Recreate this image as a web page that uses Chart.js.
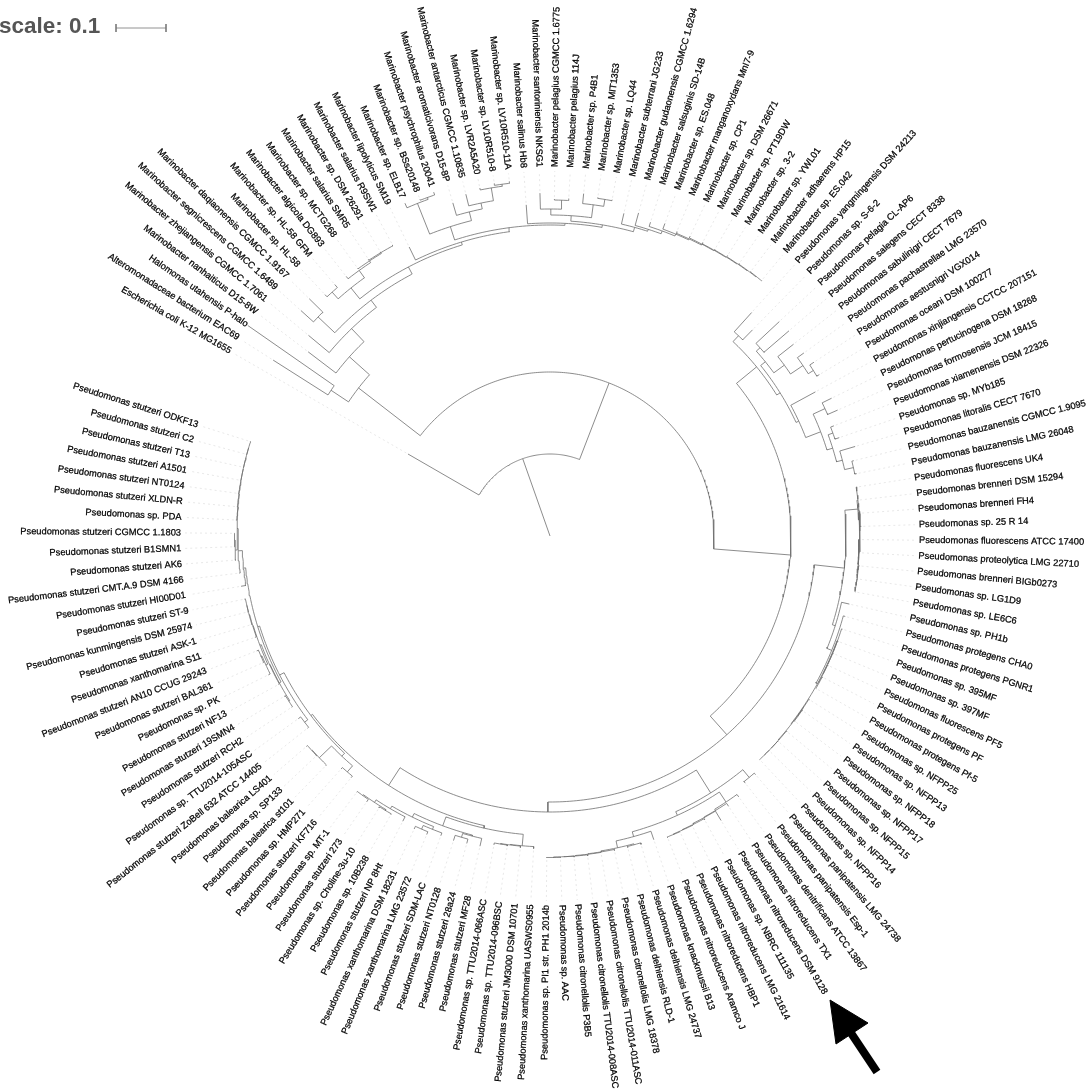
<!DOCTYPE html>
<html>
<head>
<meta charset="utf-8">
<style>
  html, body { margin: 0; padding: 0; background: #fff; overflow: hidden; }
  canvas { display: block; }
</style>
<script src="https://cdn.jsdelivr.net/npm/chart.js@4/dist/chart.umd.min.js"></script>
</head>
<body>
<canvas id="tree" width="1088" height="1091"></canvas>
<script>
// tips, clockwise from the outgroup
const tipNames = [
  'Escherichia coli K-12 MG1655', 'Alteromonadaceae bacterium EAC69', 'Halomonas utahensis P-halo', 'Marinobacter nanhaiticus D15-8W',
  'Marinobacter zhejiangensis CGMCC 1.7061', 'Marinobacter segnicrescens CGMCC 1.6489', 'Marinobacter daqiaonensis CGMCC 1.9167', 'Marinobacter sp. HL-58',
  'Marinobacter sp. HL-58 GFM', 'Marinobacter algicola DG893', 'Marinobacter sp. MCTG268', 'Marinobacter salarius SMR5',
  'Marinobacter sp. DSM 26291', 'Marinobacter salarius R9SW1', 'Marinobacter lipolyticus SM19', 'Marinobacter sp. ELB17',
  'Marinobacter sp. BSs20148', 'Marinobacter psychrophilus 20041', 'Marinobacter aromaticivorans D15-8P', 'Marinobacter antarcticus CGMCC 1.10835',
  'Marinobacter sp. LVR2A5A20', 'Marinobacter sp. LV10R510-8', 'Marinobacter sp. LV10R510-11A', 'Marinobacter salinus Hb8',
  'Marinobacter santoriniensis NKSG1', 'Marinobacter pelagius CGMCC 1.6775', 'Marinobacter pelagius 114J', 'Marinobacter sp. P4B1',
  'Marinobacter sp. MIT1353', 'Marinobacter sp. LQ44', 'Marinobacter subterrani JG233', 'Marinobacter gudaonensis CGMCC 1.6294',
  'Marinobacter salsuginis SD-14B', 'Marinobacter sp. ES.048', 'Marinobacter manganoxydans MnI7-9', 'Marinobacter sp. CP1',
  'Marinobacter sp. DSM 26671', 'Marinobacter sp. PT19DW', 'Marinobacter sp. 3-2', 'Marinobacter sp. YWL01',
  'Marinobacter adhaerens HP15', 'Marinobacter sp. ES.042', 'Pseudomonas yangmingensis DSM 24213', 'Pseudomonas sp. S-6-2',
  'Pseudomonas pelagia CL-AP6', 'Pseudomonas salegens CECT 8338', 'Pseudomonas sabulinigri CECT 7679', 'Pseudomonas pachastrellae LMG 23570',
  'Pseudomonas aestusnigri VGX014', 'Pseudomonas oceani DSM 100277', 'Pseudomonas xinjiangensis CCTCC 207151', 'Pseudomonas pertucinogena DSM 18268',
  'Pseudomonas formosensis JCM 18415', 'Pseudomonas xiamenensis DSM 22326', 'Pseudomonas sp. MYb185', 'Pseudomonas litoralis CECT 7670',
  'Pseudomonas bauzanensis CGMCC 1.9095', 'Pseudomonas bauzanensis LMG 26048', 'Pseudomonas fluorescens UK4', 'Pseudomonas brenneri DSM 15294',
  'Pseudomonas brenneri FH4', 'Pseudomonas sp. 25 R 14', 'Pseudomonas fluorescens ATCC 17400', 'Pseudomonas proteolytica LMG 22710',
  'Pseudomonas brenneri BIGb0273', 'Pseudomonas sp. LG1D9', 'Pseudomonas sp. LE6C6', 'Pseudomonas sp. PH1b',
  'Pseudomonas protegens CHA0', 'Pseudomonas protegens PGNR1', 'Pseudomonas sp. 395MF', 'Pseudomonas sp. 397MF',
  'Pseudomonas fluorescens PF5', 'Pseudomonas protegens PF', 'Pseudomonas protegens Pf-5', 'Pseudomonas sp. NFPP25',
  'Pseudomonas sp. NFPP13', 'Pseudomonas sp. NFPP18', 'Pseudomonas sp. NFPP17', 'Pseudomonas sp. NFPP15',
  'Pseudomonas sp. NFPP14', 'Pseudomonas sp. NFPP16', 'Pseudomonas panipatensis LMG 24738', 'Pseudomonas panipatensis Esp-1',
  'Pseudomonas denitrificans ATCC 13867', 'Pseudomonas nitroreducens TX1', 'Pseudomonas nitroreducens DSM 9128', 'Pseudomonas sp. NBRC 111135',
  'Pseudomonas nitroreducens LMG 21614', 'Pseudomonas nitroreducens HBP1', 'Pseudomonas nitroreducens Aramco J', 'Pseudomonas knackmussii B13',
  'Pseudomonas delhiensis LMG 24737', 'Pseudomonas delhiensis RLD-1', 'Pseudomonas citronellolis LMG 18378', 'Pseudomonas citronellolis TTU2014-011ASC',
  'Pseudomonas citronellolis TTU2014-008ASC', 'Pseudomonas citronellolis P3B5', 'Pseudomonas sp. AAC', 'Pseudomonas sp. PI1 str. PH1 2014b',
  'Pseudomonas xanthomarina UASWS0955', 'Pseudomonas stutzeri JM3000 DSM 10701', 'Pseudomonas sp. TTU2014-096BSC', 'Pseudomonas sp. TTU2014-066ASC',
  'Pseudomonas stutzeri MF28', 'Pseudomonas stutzeri 28a24', 'Pseudomonas stutzeri NT0128', 'Pseudomonas stutzeri SDM-LAC',
  'Pseudomonas xanthomarina LMG 23572', 'Pseudomonas xanthomarina DSM 18231', 'Pseudomonas stutzeri NP 8Ht', 'Pseudomonas sp. 10B238',
  'Pseudomonas sp. Choline-3u-10', 'Pseudomonas stutzeri 273', 'Pseudomonas sp. MT-1', 'Pseudomonas stutzeri KF716',
  'Pseudomonas sp. HMP271', 'Pseudomonas balearica st101', 'Pseudomonas sp. SP133', 'Pseudomonas balearica LS401',
  'Pseudomonas stutzeri ZoBell 632 ATCC 14405', 'Pseudomonas sp. TTU2014-105ASC', 'Pseudomonas stutzeri RCH2', 'Pseudomonas stutzeri 19SMN4',
  'Pseudomonas stutzeri NF13', 'Pseudomonas sp. PK', 'Pseudomonas stutzeri BAL361', 'Pseudomonas stutzeri AN10 CCUG 29243',
  'Pseudomonas xanthomarina S11', 'Pseudomonas stutzeri ASK-1', 'Pseudomonas kunmingensis DSM 25974', 'Pseudomonas stutzeri ST-9',
  'Pseudomonas stutzeri HI00D01', 'Pseudomonas stutzeri CMT.A.9 DSM 4166', 'Pseudomonas stutzeri AK6', 'Pseudomonas stutzeri B1SMN1',
  'Pseudomonas stutzeri CGMCC 1.1803', 'Pseudomonas sp. PDA', 'Pseudomonas stutzeri XLDN-R', 'Pseudomonas stutzeri NT0124',
  'Pseudomonas stutzeri A1501', 'Pseudomonas stutzeri T13', 'Pseudomonas stutzeri C2', 'Pseudomonas stutzeri ODKF13'
];

// distance from the root at the end of each tip (50 units = 0.1 on the scale bar)
const tipDepth = [
  164, 328, 368, 304, 314, 336, 338, 330, 331, 330,
  330, 331, 331, 331, 321.5, 363, 361, 363, 347, 352,
  355, 357, 357, 332, 343, 337, 338, 344, 342, 342,
  331, 335, 329.5, 333, 330, 331, 331, 331, 332, 332,
  332, 332, 301, 289, 314, 315, 310, 313, 316, 314,
  302, 313.5, 314, 304.5, 305.5, 318, 313, 313, 311, 310,
  311, 311.5, 310, 310.5, 311, 311, 310.5, 307, 306, 307,
  307, 307, 307, 307, 307, 307, 307, 307, 307, 307,
  307, 307, 315, 315, 322, 324, 332, 323, 323, 323.5,
  323.5, 321, 321.5, 321, 321, 321, 322, 322, 322, 322,
  313, 313, 313, 314, 318, 318.5, 319.5, 319, 323, 323,
  321, 321, 321, 323, 321, 313, 313, 321, 321, 322,
  309.5, 311, 310, 310.5, 309.5, 314, 314, 315, 312, 311.5,
  312, 312, 313, 313, 316, 316, 316, 314.5, 314.5, 314.5,
  314.5, 314.5, 314.5, 314.5
];

// internal nodes: first and last tip under the node, and its distance from the root
const cladeFirst = [
  1, 2, 2, 2, 4, 5, 6, 6, 8, 8, 8, 10, 11, 12,
  15, 16, 16, 16, 17, 19, 20, 21, 22,
  24, 25, 25, 25, 26, 28, 29,
  31, 32, 33, 34, 35, 36, 37, 38, 39, 40, 41,
  43, 43, 43, 45, 45, 45, 47, 48, 49, 51, 52, 52, 54, 54, 56, 57,
  59, 59, 59, 60, 60, 61, 63, 64, 65, 66,
  68, 69, 70, 70, 71, 72, 73, 74, 76, 76, 77, 79, 80, 81,
  83, 83, 83, 85, 85, 86, 87, 88, 89, 90,
  92, 93, 93, 95, 96, 97, 98, 99,
  101, 101, 101, 102, 103,
  105, 105, 106, 108, 108, 109, 111, 112, 112, 114,
  116, 116, 116, 118, 119,
  121, 121, 123, 123, 123, 125, 126, 126, 127, 129, 130, 131,
  133, 134, 135, 135, 136, 138, 139, 140, 141, 142, 143
];
const cladeLast = [
  144, 144, 42, 3, 42, 42, 42, 7, 42, 14, 9, 14, 14, 14,
  42, 42, 23, 18, 18, 23, 23, 23, 23,
  42, 42, 30, 27, 27, 30, 30,
  42, 42, 42, 42, 42, 42, 42, 42, 42, 42, 42,
  144, 58, 44, 58, 50, 46, 50, 50, 50, 58, 58, 53, 58, 55, 58, 58,
  144, 82, 67, 67, 62, 62, 67, 67, 67, 67,
  82, 82, 82, 75, 75, 75, 75, 75, 82, 78, 78, 82, 82, 82,
  144, 100, 84, 100, 91, 91, 91, 91, 91, 91,
  100, 100, 94, 100, 100, 100, 100, 100,
  144, 115, 104, 104, 104,
  115, 107, 107, 115, 110, 110, 115, 115, 113, 115,
  144, 120, 117, 120, 120,
  144, 122, 144, 132, 124, 132, 132, 128, 128, 132, 132, 132,
  144, 144, 144, 137, 137, 144, 144, 144, 144, 144, 144
];
const cladeDepth = [
  82, 164, 242, 263, 269, 287, 296, 319, 304, 318, 327, 327, 329, 330,
  307, 311, 325, 358, 360, 334, 340, 353, 355,
  313, 315.5, 321, 327, 336, 334, 341,
  320, 322, 325, 327, 328, 329, 329.5, 330, 330.5, 331, 331.5,
  241, 267, 275, 271, 277, 282, 290, 305, 311, 274, 290, 303, 296, 301, 302, 311,
  266, 296, 310, 310, 309, 310, 309, 309.5, 310, 310,
  299, 304, 305.5, 306, 306, 306, 306, 306.5, 306, 306, 306.5, 306.5, 306.5, 306.5,
  276, 303, 313, 307, 319, 320.5, 321, 322, 322.5, 323,
  312, 319, 320, 320, 320.5, 321, 321, 321.5,
  297, 299.5, 311, 311.5, 312,
  309, 310, 314, 313, 316, 320, 316, 319, 320, 320,
  299, 303, 311, 320, 320.5,
  304, 308, 306, 308, 309, 308.5, 310, 312, 313, 310.5, 311, 311,
  308, 312, 313, 315, 315.5, 313.5, 314, 314, 314, 314, 314
];

const scaleBarLabel = 'scale: 0.1';
const scaleBarUnits = 50;

// circular layout with a 12 degree gap, angles clockwise from east
const firstTipAngle = 210;
const tipStep = 2.43;

function toXY(r, deg) {
  const a = deg * Math.PI / 180;
  return { x: r * Math.cos(a), y: -r * Math.sin(a) };
}
function tipAngle(t) {
  return firstTipAngle + (t - 1) * tipStep;
}

const treePoints = [];
const leaderPoints = [];
const gap = { x: null, y: null };

function addBranch(parentDepth, depth, deg) {
  treePoints.push(toXY(parentDepth, deg), toXY(depth, deg), gap);
}
function addArc(depth, a0, a1) {
  for (let a = a0; a < a1; a += 0.75) treePoints.push(toXY(depth, a));
  treePoints.push(toXY(depth, a1), gap);
}
function findClade(first, last, notSelf) {
  // the biggest clade starting at this tip that still fits
  let best = -1;
  cladeFirst.forEach((f, i) => {
    if (f !== first || cladeLast[i] > last || i === notSelf) return;
    if (best < 0 || cladeLast[i] > cladeLast[best]) best = i;
  });
  return best;
}
function drawClade(i, parentDepth) {
  const depth = cladeDepth[i];
  const angles = [];
  let t = cladeFirst[i];
  while (t <= cladeLast[i]) {
    const c = findClade(t, cladeLast[i], i);
    if (c >= 0) {
      angles.push(drawClade(c, depth));
      t = cladeLast[c] + 1;
    } else {
      const a = tipAngle(t);
      addBranch(depth, tipDepth[t - 1], a);
      leaderPoints.push(toXY(tipDepth[t - 1] + 2, a), toXY(365, a), gap);
      angles.push(a);
      t++;
    }
  }
  const first = angles[0];
  const last = angles[angles.length - 1];
  addArc(depth, first, last);
  const mid = (first + last) / 2;
  addBranch(parentDepth, depth, mid);
  return mid;
}
drawClade(0, 0);

// pointer to the strain of interest
const arrowHeadX = [280, 318, 286, 280];
const arrowHeadY = [-464, -487, -508, -464];
const arrowShaftX = [301, 327];
const arrowShaftY = [-497, -536];

const barY = 508;
const barX0 = -434;
const barPoints = [
  { x: barX0, y: barY + 4 }, { x: barX0, y: barY - 4 }, gap,
  { x: barX0, y: barY }, { x: barX0 + scaleBarUnits, y: barY }, gap,
  { x: barX0 + scaleBarUnits, y: barY + 4 }, { x: barX0 + scaleBarUnits, y: barY - 4 }
];

const textPlugin = {
  id: 'treeText',
  afterDatasetsDraw(chart) {
    const ctx = chart.ctx;
    const xs = chart.scales.x;
    const ys = chart.scales.y;
    ctx.save();
    ctx.fillStyle = '#000';
    ctx.strokeStyle = '#000';
    ctx.lineWidth = 0.25;
    ctx.font = '9.3px "Liberation Sans"';
    ctx.textBaseline = 'middle';
    tipNames.forEach((name, i) => {
      const deg = tipAngle(i + 1) % 360;
      const p = toXY(369, deg);
      const flip = deg > 90 && deg < 270;
      ctx.save();
      ctx.translate(xs.getPixelForValue(p.x), ys.getPixelForValue(p.y));
      ctx.rotate((flip ? deg + 180 : deg) * Math.PI / 180);
      ctx.textAlign = flip ? 'right' : 'left';
      ctx.fillText(name, 0, 0);
      ctx.strokeText(name, 0, 0);
      ctx.restore();
    });
    ctx.fillStyle = '#555';
    ctx.font = 'bold 22.5px "Liberation Sans"';
    ctx.textAlign = 'left';
    ctx.textBaseline = 'alphabetic';
    ctx.fillText(scaleBarLabel, xs.getPixelForValue(-551), ys.getPixelForValue(503));
    ctx.restore();
  }
};

function lineSet(data, color, width, extra) {
  return Object.assign({
    data: data, borderColor: color, borderWidth: width, pointRadius: 0,
    showLine: true, fill: false, tension: 0
  }, extra || {});
}

new Chart(document.getElementById('tree'), {
  type: 'scatter',
  data: {
    datasets: [
      lineSet(leaderPoints, '#e2e2e2', 0.8, { borderDash: [2, 3] }),
      lineSet(treePoints, '#6f6f6f', 0.8),
      lineSet(barPoints, '#777', 0.8),
      lineSet(arrowShaftX.map((x, i) => ({ x: x, y: arrowShaftY[i] })), '#000', 8),
      lineSet(arrowHeadX.map((x, i) => ({ x: x, y: arrowHeadY[i] })), '#000', 1, { fill: 'shape', backgroundColor: '#000' })
    ]
  },
  options: {
    responsive: false,
    animation: false,
    layout: { padding: 0 },
    scales: {
      x: { type: 'linear', display: false, min: -550, max: 538 },
      y: { type: 'linear', display: false, min: -555, max: 536 }
    },
    plugins: { legend: { display: false }, tooltip: { enabled: false } }
  },
  plugins: [textPlugin]
});
</script>
</body>
</html>
